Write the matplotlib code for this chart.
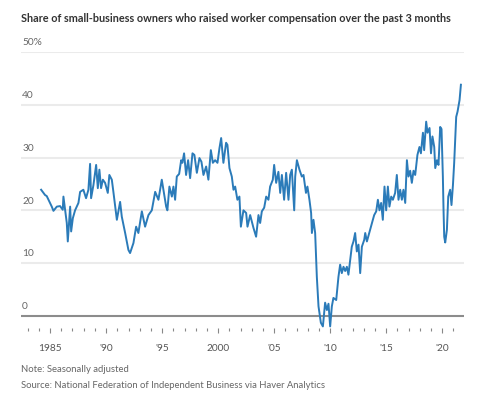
import matplotlib.pyplot as plt
from matplotlib.ticker import MultipleLocator

plt.rcParams['font.family'] = ['Lato', 'DejaVu Sans']

# fractional year of each reading
years = [
    1984.20, 1984.55, 1984.70, 1985.15, 1985.30, 1985.60, 1985.89, 1986.13, 1986.19, 1986.49,
    1986.58, 1986.79, 1986.88, 1987.03, 1987.23, 1987.53, 1987.68, 1987.97, 1988.21, 1988.42,
    1988.57, 1988.66, 1988.87, 1989.11, 1989.26, 1989.40, 1989.55, 1989.71, 1989.91, 1990.15,
    1990.29, 1990.51, 1990.65, 1990.96, 1991.25, 1991.40, 1991.70, 1991.99, 1992.14, 1992.44,
    1992.68, 1992.88, 1993.19, 1993.48, 1993.78, 1994.08, 1994.38, 1994.67, 1994.97, 1995.36,
    1995.47, 1995.65, 1995.87, 1996.01, 1996.16, 1996.31, 1996.52, 1996.70, 1996.81, 1996.96,
    1997.14, 1997.32, 1997.50, 1997.71, 1997.88, 1998.10, 1998.33, 1998.51, 1998.69, 1998.93,
    1999.13, 1999.35, 1999.53, 1999.73, 1999.94, 2000.12, 2000.27, 2000.47, 2000.71, 2000.83,
    2001.01, 2001.22, 2001.37, 2001.52, 2001.72, 2001.90, 2002.03, 2002.26, 2002.50, 2002.62,
    2002.86, 2003.15, 2003.39, 2003.60, 2003.75, 2003.90, 2004.11, 2004.29, 2004.49, 2004.64,
    2004.88, 2005.00, 2005.18, 2005.38, 2005.54, 2005.69, 2005.89, 2006.07, 2006.28, 2006.43,
    2006.58, 2006.79, 2006.88, 2007.03, 2007.26, 2007.47, 2007.62, 2007.84, 2007.97, 2008.15,
    2008.30, 2008.37, 2008.51, 2008.66, 2008.81, 2008.96, 2009.17, 2009.35, 2009.55, 2009.71,
    2009.85, 2010.00, 2010.15, 2010.29, 2010.54, 2010.74, 2010.89, 2011.04, 2011.19, 2011.34,
    2011.49, 2011.63, 2011.79, 2011.93, 2012.08, 2012.23, 2012.38, 2012.53, 2012.68, 2012.83,
    2013.04, 2013.13, 2013.28, 2013.42, 2013.63, 2013.81, 2013.93, 2014.11, 2014.26, 2014.40,
    2014.55, 2014.70, 2014.85, 2015.00, 2015.15, 2015.29, 2015.45, 2015.60, 2015.80, 2015.95,
    2016.10, 2016.25, 2016.40, 2016.54, 2016.70, 2016.85, 2016.99, 2017.14, 2017.29, 2017.44,
    2017.59, 2017.79, 2017.97, 2018.10, 2018.28, 2018.39, 2018.57, 2018.69, 2018.87, 2019.00,
    2019.13, 2019.29, 2019.38, 2019.53, 2019.67, 2019.82, 2019.94, 2020.06, 2020.12, 2020.18,
    2020.27, 2020.42, 2020.54, 2020.71, 2020.83, 2020.96, 2021.07, 2021.25, 2021.37, 2021.55,
    2021.67,
]

# share of owners raising compensation, %
share = [
    23.9, 22.9, 22.7, 20.7, 19.9, 20.7, 20.8, 20.1, 22.6, 17.6,
    14.1, 20.7, 16.0, 18.5, 20.0, 21.4, 23.5, 23.9, 22.3, 23.9,
    28.8, 22.3, 24.8, 28.6, 24.2, 27.7, 24.2, 25.8, 25.2, 23.3,
    26.7, 25.8, 23.5, 18.2, 21.6, 18.8, 15.7, 12.5, 11.9, 13.8,
    16.9, 15.7, 19.8, 16.9, 19.1, 20.0, 23.5, 22.0, 25.8, 20.7,
    20.0, 24.5, 22.6, 24.5, 22.0, 26.4, 26.9, 29.5, 29.0, 30.8,
    26.7, 29.5, 26.1, 30.8, 30.5, 27.1, 29.9, 29.2, 26.7, 28.3,
    25.8, 31.4, 29.0, 29.5, 29.0, 31.8, 33.7, 29.0, 32.8, 32.4,
    28.0, 26.4, 23.9, 24.5, 22.0, 22.6, 16.9, 20.0, 19.5, 16.9,
    19.1, 16.7, 15.0, 19.1, 17.6, 19.8, 20.5, 22.6, 22.0, 24.5,
    25.8, 28.6, 25.2, 27.3, 23.3, 26.7, 22.0, 27.1, 22.0, 26.7,
    27.7, 20.0, 26.4, 29.5, 27.7, 26.4, 26.7, 23.3, 24.5, 22.0,
    19.5, 15.7, 18.2, 15.7, 7.4, 1.8, -1.3, -2.0, 2.5, 1.1,
    2.3, -2.0, 1.8, 3.4, 3.0, 7.4, 9.7, 8.1, 9.3, 8.5,
    9.3, 7.8, 10.6, 13.1, 14.1, 15.7, 12.2, 13.5, 8.1, 13.1,
    14.4, 15.7, 14.1, 15.2, 16.9, 18.2, 19.1, 19.8, 22.0, 20.0,
    21.4, 18.2, 24.5, 20.0, 24.5, 20.7, 22.6, 22.0, 23.3, 26.7,
    22.0, 23.9, 22.0, 23.9, 21.4, 29.5, 26.4, 27.5, 25.2, 27.5,
    26.7, 30.5, 32.0, 30.8, 34.7, 31.4, 36.8, 34.7, 35.6, 30.8,
    34.0, 32.0, 28.0, 29.5, 28.6, 35.8, 35.4, 26.4, 20.0, 15.0,
    13.9, 16.3, 22.6, 23.9, 21.0, 24.8, 29.0, 37.7, 38.7, 40.9,
    43.8,
]

major_years = [1985, 1990, 1995, 2000, 2005, 2010, 2015, 2020]
major_labels = ['1985', "'90", "'95", '2000', "'05", "'10", "'15", "'20"]
grid_values = [10, 20, 30, 40, 50]
grid_labels = ['10', '20', '30', '40', '50%']

fig = plt.figure(figsize=(4.79, 4.0), dpi=100)
ax = fig.add_axes([0.044, 0.18, 0.925, 0.69])

for v in grid_values:
    ax.axhline(v, color='#ebebeb', lw=1.5, zorder=1)
ax.axhline(0, color='#8c8c8c', lw=1.5, zorder=2)

ax.plot(years, share, color='#2b7bb9', lw=1.4, zorder=3, clip_on=False)

ax.set_xlim(1982.41, 2021.96)
ax.set_ylim(-2.3, 50)

# y labels sit on top of the gridlines
for v, lab in zip(grid_values + [0], grid_labels + ['0']):
    ax.text(1982.5, v + 0.9, lab, fontsize=7.3, color='#666666', ha='left', va='bottom')

for s in ax.spines.values():
    s.set_visible(False)
ax.set_yticks([])
ax.set_xticks(major_years)
ax.set_xticklabels(major_labels)
ax.xaxis.set_minor_locator(MultipleLocator(1))
ax.tick_params(axis='x', which='major', length=3.5, width=0.8, color='#888888',
               labelsize=7.3, labelcolor='#555555', pad=8)
ax.tick_params(axis='x', which='minor', length=2, width=0.8, color='#888888')

fig.text(0.044, 0.955, 'Share of small-business owners who raised worker compensation over the past 3 months',
         fontsize=7.8, fontweight='bold', color='#333333', ha='left', va='center')
fig.text(0.044, 0.075, 'Note: Seasonally adjusted', fontsize=6.8, color='#666666', ha='left', va='center')
fig.text(0.044, 0.037, 'Source: National Federation of Independent Business via Haver Analytics',
         fontsize=6.8, color='#666666', ha='left', va='center')

fig.savefig('out.png', dpi=100)
